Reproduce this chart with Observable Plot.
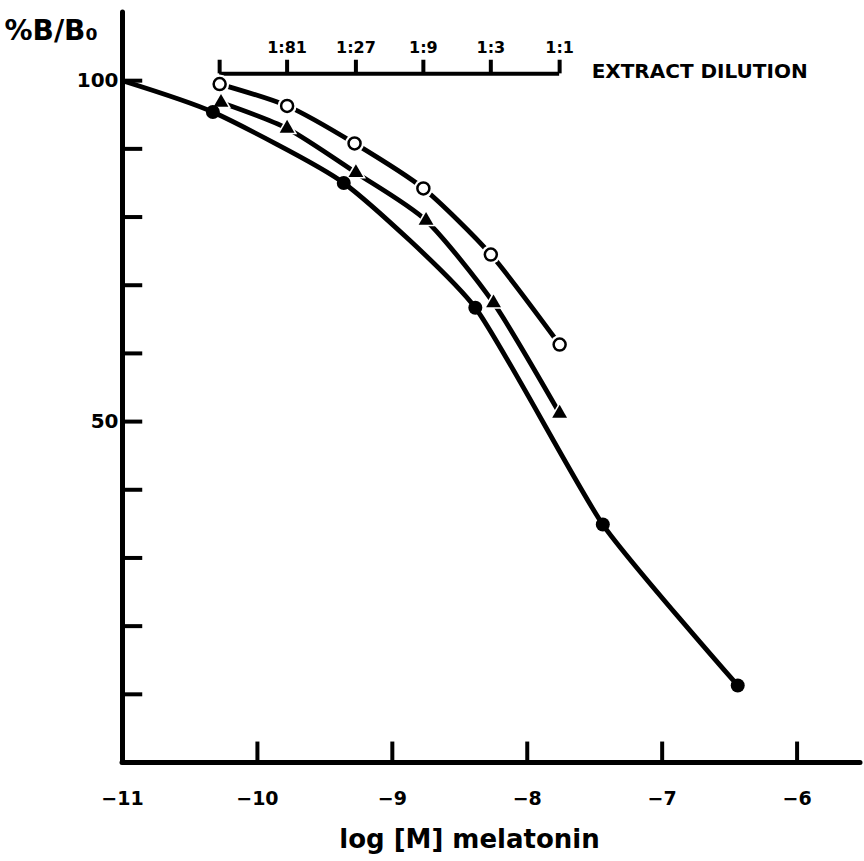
<!DOCTYPE html>
<html><head><meta charset="utf-8">
<script src="https://cdn.jsdelivr.net/npm/d3@7"></script>
<script src="https://cdn.jsdelivr.net/npm/@observablehq/plot@0.6"></script>
<style>html,body{margin:0;padding:0;background:#fff;} svg{display:block}</style>
</head><body><div id="chart"></div>
<script>
// Standard curve (filled circles); first point is the curve origin at the axis (no marker)
const stdX = [-11, -10.33, -9.36, -8.385, -7.44, -6.44];
const stdY = [100, 95.4, 85.0, 66.7, 34.9, 11.3];
// Extract dilution series (filled triangles)
const triX = [-10.27, -9.78, -9.27, -8.75, -8.25, -7.76];
const triY = [96.8, 93.0, 86.5, 79.5, 67.4, 51.2];
// Extract dilution series (open circles)
const openX = [-10.28, -9.78, -9.28, -8.77, -8.27, -7.76];
const openY = [99.5, 96.3, 90.8, 84.2, 74.5, 61.3];
// Axes
const xTicks = [-11, -10, -9, -8, -7, -6];
const yTicks = [10, 20, 30, 40, 50, 60, 70, 80, 90, 100];
const yLabels = [50, 100];
// Top dilution scale
const dilutionX = [-10.28, -9.78, -9.27, -8.77, -8.27, -7.76];
const dilutionLabels = ["", "1:81", "1:27", "1:9", "1:3", "1:1"];

const xMin = -11, xMax = -5.53, yMin = 0, yMax = 110;
const font = "DejaVu Sans, Liberation Sans, sans-serif";

const std = stdX.map((x, i) => ({x, y: stdY[i]}));
const stdMarked = std.slice(1);
const tri = triX.map((x, i) => ({x, y: triY[i]}));
const open = openX.map((x, i) => ({x, y: openY[i]}));
const dil = dilutionX.map((x, i) => ({x, label: dilutionLabels[i]}));

const lw = 4.8;
const curve = "cardinal";
const chart = Plot.plot({
  width: 864, height: 861,
  marginLeft: 122, marginRight: 4, marginTop: 12, marginBottom: 99,
  x: {domain: [xMin, xMax], axis: null},
  y: {domain: [yMin, yMax], axis: null},
  style: {fontFamily: font, background: "#fff"},
  marks: [
    // axis lines
    Plot.ruleY([yMin], {x1: xMin, x2: xMax, strokeWidth: 5, strokeLinecap: "round"}),
    Plot.ruleX([xMin], {y1: yMin, y2: yMax, strokeWidth: 5, strokeLinecap: "round"}),
    // inward ticks
    Plot.ruleX(xTicks.slice(1), {y1: yMin, y2: 3, strokeWidth: 4}),
    Plot.ruleY(yTicks, {x1: xMin, x2: -10.85, strokeWidth: 4}),
    // tick labels
    Plot.text(xTicks, {x: d => d, y: yMin, dy: 36, text: d => "\u2212" + Math.abs(d), fontSize: 19, fontWeight: "bold"}),
    Plot.text(yLabels, {x: xMin, y: d => d, dx: -4, textAnchor: "end", text: d => String(d), fontSize: 20, fontWeight: "bold"}),
    // top dilution scale
    Plot.ruleY([101], {x1: dilutionX[0], x2: dilutionX[dilutionX.length - 1], strokeWidth: 4}),
    Plot.ruleX(dil, {x: "x", y1: 101, y2: 103, strokeWidth: 4}),
    Plot.text(dil, {x: "x", y: 101, dy: -26, text: "label", fontSize: 16, fontWeight: "bold"}),
    Plot.text(["EXTRACT DILUTION"], {x: dilutionX[dilutionX.length - 1], y: 101, dx: 32, dy: -2, textAnchor: "start", fontSize: 20, fontWeight: "bold", letterSpacing: "2px"}),
    // curves
    Plot.line(std, {x: "x", y: "y", curve, tension: 0.45, strokeWidth: lw, strokeLinecap: "round"}),
    Plot.line(tri, {x: "x", y: "y", curve, tension: 0.3, strokeWidth: lw, strokeLinecap: "round"}),
    Plot.line(open, {x: "x", y: "y", curve, tension: 0.3, strokeWidth: lw, strokeLinecap: "round"}),
    // halos (gaps in the line at each marker)
    Plot.dot(open, {x: "x", y: "y", r: 9.5, fill: "white"}),
    Plot.dot(tri, {x: "x", y: "y", r: 7.5, fill: "white", symbol: "triangle"}),
    // markers
    Plot.dot(stdMarked, {x: "x", y: "y", r: 7, fill: "black"}),
    Plot.dot(tri, {x: "x", y: "y", r: 5.5, fill: "black", symbol: "triangle"}),
    Plot.dot(open, {x: "x", y: "y", r: 6, fill: "white", stroke: "black", strokeWidth: 2.5}),
    // axis titles
    Plot.text(["%B/B\u2080"], {frameAnchor: "top-left", dx: -118, dy: 19, lineAnchor: "middle", textAnchor: "start", fontSize: 28, fontWeight: "bold"}),
    Plot.text(["log [M] melatonin"], {frameAnchor: "bottom", dx: -22, dy: 77, lineAnchor: "middle", fontSize: 26, fontWeight: "bold"})
  ]
});
document.getElementById("chart").appendChild(chart);
</script>
</body></html>
